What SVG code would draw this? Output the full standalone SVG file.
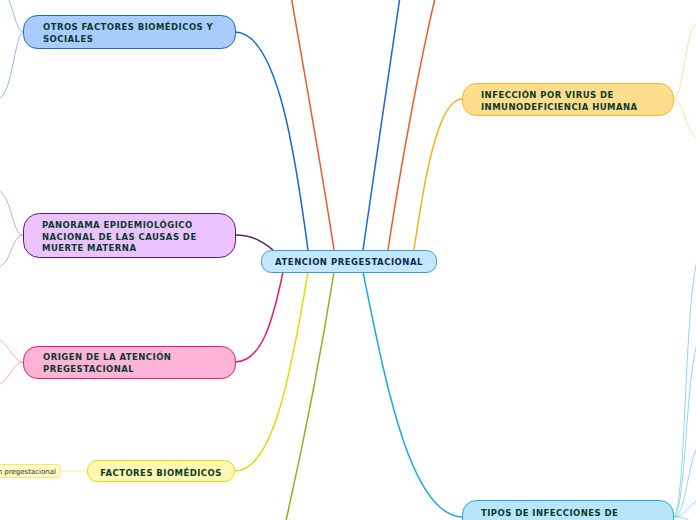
<svg xmlns="http://www.w3.org/2000/svg" width="696" height="520" viewBox="0 0 696 520">
<style>
.t{font-family:"DejaVu Sans","Verdana",sans-serif;font-weight:bold;font-size:8.5px;letter-spacing:0.45px;fill:#083b2c}
.c{fill:none;stroke-width:1.5}
.s{fill:none;stroke-width:1}
</style>
<rect width="696" height="520" fill="#ffffff"/>
<g id="connectors">
<path class="c" stroke="#1a66d9" d="M308,250 C296,160 278,32 235,32"/>
<path class="c" stroke="#f05a28" d="M334,250 C322,170 302,60 290,-10"/>
<path class="c" stroke="#1a66d9" d="M363,250 C375,170 390,60 401,-10"/>
<path class="c" stroke="#f05a28" d="M388,250 C400,170 420,60 437,-10"/>
<path class="c" stroke="#f9b116" d="M414,250 C424,180 438,99 462,99"/>
<path class="c" stroke="#5a1a73" d="M273,250 C262,241 252,235 235,235"/>
<path class="c" stroke="#ec1a6c" d="M283,272 C273,320 262,362 235,362"/>
<path class="c" stroke="#ecd400" d="M308,272 C290,380 272,471 235,471"/>
<path class="c" stroke="#86b41a" d="M334,272 C320,360 302,450 285,525"/>
<path class="c" stroke="#1aa8e8" d="M363,272 C385,380 410,515 462,517"/>
<path class="s" stroke="#8fb8ef" d="M24,32 C14,32 14,-2 2,-8"/>
<path class="s" stroke="#8fb8ef" d="M24,32 C14,32 14,92 -2,100"/>
<path class="s" stroke="#c9a2d6" d="M23,235 C12,235 12,196 -2,190"/>
<path class="s" stroke="#c9a2d6" d="M23,235 C12,235 12,262 -2,268"/>
<path class="s" stroke="#f7a5c8" d="M24,362 C12,362 10,343 -4,338"/>
<path class="s" stroke="#f7a5c8" d="M24,362 C12,362 10,382 -4,386"/>
<path class="s" stroke="#fbef9a" d="M60,471 L87,471"/>
<path class="s" stroke="#fde0a0" d="M673,99 C684,99 684,30 698,22"/>
<path class="s" stroke="#fde0a0" d="M673,99 C684,99 684,130 698,140"/>
<path class="s" stroke="#8fd6f5" d="M673,517 C686,517 684,300 698,258"/>
<path class="s" stroke="#8fd6f5" d="M673,517 C686,517 685,380 698,340"/>
<path class="s" stroke="#8fd6f5" d="M673,517 C686,517 686,470 698,445"/>
<path class="s" stroke="#8fd6f5" d="M673,517 C686,517 688,505 698,500"/>
<path class="s" stroke="#8fd6f5" d="M673,517 C686,517 688,520 698,525"/>
</g>
<g id="center">
<rect x="261.5" y="250.5" width="175" height="22" rx="10" fill="#c4e8fb" stroke="#3a9ad8"/>
<text class="t" x="349" y="265" text-anchor="middle" style="fill:#0e2a4f;letter-spacing:0.5px">ATENCION PREGESTACIONAL</text>
</g>
<g id="otros">
<rect x="23.5" y="15.5" width="212" height="33" rx="14" fill="#a8cdfc" stroke="#1a66d9"/>
<text class="t" x="43" y="30">OTROS FACTORES BIOMÉDICOS Y</text>
<text class="t" x="43" y="41.5">SOCIALES</text>
</g>
<g id="panorama">
<rect x="23.5" y="213.5" width="212" height="44" rx="16" fill="#ecc2fc" stroke="#5a1a73"/>
<text class="t" x="42" y="228">PANORAMA EPIDEMIOLÓGICO</text>
<text class="t" x="42" y="239.5">NACIONAL DE LAS CAUSAS DE</text>
<text class="t" x="42" y="250.5">MUERTE MATERNA</text>
</g>
<g id="origen">
<rect x="23.5" y="346.5" width="212" height="32" rx="14" fill="#ffb3d6" stroke="#ec1a6c"/>
<text class="t" x="43" y="360">ORIGEN DE LA ATENCIÓN</text>
<text class="t" x="43" y="371.5">PREGESTACIONAL</text>
</g>
<g id="factores">
<rect x="87.5" y="460.5" width="147" height="21" rx="10" fill="#fff8b0" stroke="#ecd400"/>
<text class="t" x="161" y="475.5" text-anchor="middle">FACTORES BIOMÉDICOS</text>
</g>
<g id="factores-sub">
<rect x="-6" y="464.5" width="66" height="13" rx="3" fill="#fffbc2" stroke="#f5e67a"/>
<text x="56" y="474" text-anchor="end" font-family="DejaVu Sans, Verdana, sans-serif" font-size="7" fill="#333333">n pregestacional</text>
</g>
<g id="infeccion">
<rect x="462.5" y="83.5" width="211" height="32" rx="14" fill="#fddc8c" stroke="#f9b824"/>
<text class="t" x="481" y="97.5">INFECCIÓN POR VIRUS DE</text>
<text class="t" x="481" y="109.5">INMUNODEFICIENCIA HUMANA</text>
</g>
<g id="tipos">
<rect x="462.5" y="500.5" width="211" height="34" rx="14" fill="#b7e5fa" stroke="#1aa8e8"/>
<text class="t" x="481" y="515.5">TIPOS DE INFECCIONES DE</text>
</g>
</svg>
